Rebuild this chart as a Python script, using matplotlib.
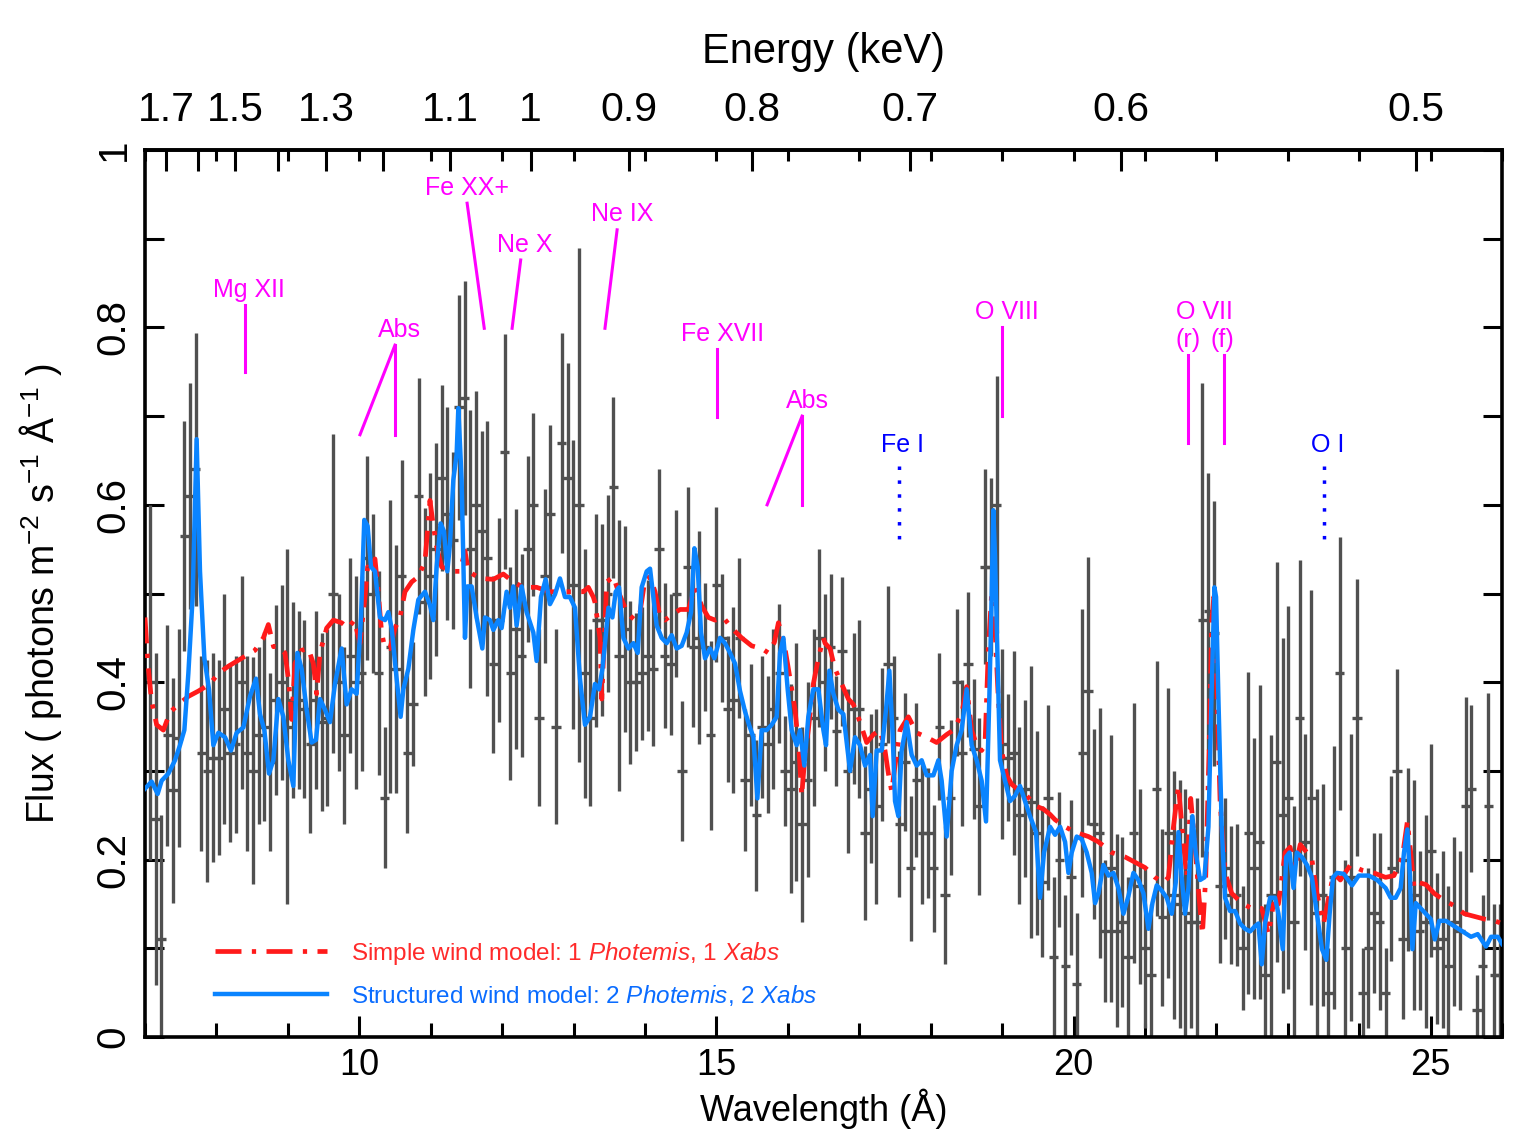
import numpy as np
import matplotlib
matplotlib.use('Agg')
import matplotlib.pyplot as plt
from matplotlib.ticker import MultipleLocator, NullLocator, FixedLocator

plt.rcParams['font.family'] = ['Liberation Sans', 'DejaVu Sans']
plt.rcParams['mathtext.fontset'] = 'custom'
plt.rcParams['mathtext.rm'] = 'Liberation Sans'
plt.rcParams['mathtext.it'] = 'Liberation Sans:italic'

# measured spectrum (flux per bin and 1-sigma error), bins run 7.07 .. 25.97 A
flux = [.40, .246, .11, .34, .278, .337, .565, .61, .64, .32, .30, .315, .315, .37, .32, .33, .40, .32, .30, .34,
        .35, .31, .38, .40, .35, .38, .38, .37, .33, .38, .355, .36, .50, .40, .34, .43, .40, .41, .54, .50,
        .41, .27, .44, .415, .52, .32, .375, .61, .49, .52, .55, .63, .59, .56, .71, .72, .55, .60, .57, .54,
        .42, .47, .66, .41, .46, .43, .55, .60, .36, .52, .59, .35, .67, .63, .51, .60, .41, .36, .47,
        .47, .50, .62, .43, .46, .40, .40, .41, .43, .415, .55, .43, .42, .50, .30, .53, .44, .45, .44, .34,
        .51, .45, .37, .38, .45, .29, .34, .25, .35, .33, .37, .41, .30, .28, .31, .24, .29, .36, .45,
        .40, .44, .345, .435, .30, .37, .37, .23, .28, .26, .33, .42, .36, .24, .31, .19, .29, .23, .23, .19,
        .35, .16, .27, .40, .32, .42, .325, .26, .53, .53, .60, .33, .315, .32, .25, .28, .265, .23, .175, .27,
        .09, .20, .08, .18, .06, .32, .39, .24, .23, .12, .19, .12, .13, .09, .23, .17, .10, .07, .28, .135,
        .23, .16, .15, .14, .13, .13, .47, .48, .455, .17, .19, .16, .16, .10, .23, .19, .22, .07, .16,
        .31, .25, .27, .13, .36, .22, .27, .14, .16, .05, .18, .41, .10, .18, .36, .05, .10, .14, .13, .05,
        .19, .30, .11, .20, .16, .12, .13, .21, .10, .11, .08, .13, .12, .26, .28, .03, .08, .26, .07, .07]
err = [.20, .187, .14, .125, .127, .123, .13, .127, .154, .11, .125, .118, .11, .13, .10, .10, .12, .11, .128, .10,
       .107, .10, .107, .11, .20, .11, .10, .10, .10, .10, .10, .10, .18, .10, .10, .11, .12, .11, .115, .09,
       .115, .08, .165, .14, .13, .09, .07, .133, .106, .116, .12, .105, .12, .10, .127, .132, .157, .128, .113, .155,
       .10, .115, .132, .12, .135, .114, .105, .103, .10, .098, .10, .11, .124, .13, .163, .29, .14, .10, .12,
       .108, .111, .102, .153, .116, .092, .078, .075, .085, .087, .09, .082, .08, .094, .079, .09, .09, .12, .072, .107,
       .087, .072, .082, .105, .09, .08, .08, .085, .08, .077, .09, .078, .062, .118, .134, .11, .11, .10, .10,
       .10, .082, .062, .084, .092, .085, .10, .098, .084, .11, .086, .088, .069, .082, .078, .082, .087, .08, .073, .072,
       .083, .078, .087, .083, .082, .082, .079, .10, .11, .10, .145, .107, .072, .115, .10, .10, .153, .115, .085, .104,
       .09, .076, .08, .087, .08, .162, .151, .107, .141, .08, .15, .109, .096, .09, .147, .11, .09, .08, .144, .10,
       .163, .14, .14, .14, .12, .14, .267, .156, .149, .087, .08, .078, .08, .07, .182, .147, .177, .08, .18,
       .225, .20, .216, .13, .178, .122, .234, .14, .125, .05, .148, .154, .10, .162, .156, .05, .09, .09, .10, .05,
       .104, .115, .09, .103, .13, .09, .12, .12, .085, .10, .09, .095, .09, .123, .094, .04, .08, .128, .08, .08]
wl = np.linspace(7.07, 25.97, len(flux))

# simple wind model (red)
red_wl = [7.00, 7.04, 7.09, 7.163, 7.257, 7.35, 7.467, 7.607, 7.747, 7.91, 8.027, 8.167, 8.353, 8.54, 8.657, 8.727,
          8.80, 8.843, 8.96, 9.016, 9.053, 9.10, 9.193, 9.287, 9.357, 9.403, 9.45, 9.543, 9.637, 9.753, 9.846, 9.93,
          10.01, 10.08, 10.117, 10.15, 10.22, 10.267, 10.313, 10.36, 10.43, 10.50, 10.57, 10.64, 10.733, 10.827,
          10.92, 10.99, 11.037, 11.083, 11.153, 11.317, 11.41, 11.48, 11.527, 11.69, 11.877, 12.017, 12.157, 12.297,
          12.483, 12.67, 12.857, 12.997, 13.137, 13.207, 13.277, 13.30, 13.37, 13.395, 13.464, 13.558, 13.628,
          13.721, 13.791, 13.861, 13.931, 14.001, 14.071, 14.141, 14.211, 14.281, 14.374, 14.491, 14.608, 14.701,
          14.794, 14.888, 14.981, 15.098, 15.214, 15.354, 15.494, 15.634, 15.728, 15.812, 15.868, 15.914, 15.961,
          16.031, 16.101, 16.157, 16.194, 16.241, 16.287, 16.357, 16.428, 16.498, 16.521, 16.591, 16.661, 16.754,
          16.848, 16.918, 17.011, 17.104, 17.198, 17.291, 17.361, 17.408, 17.454, 17.501, 17.571, 17.688, 17.804,
          17.944, 18.084, 18.224, 18.317, 18.434, 18.504, 18.574, 18.644, 18.714, 18.761, 18.808, 18.854, 18.877,
          18.901, 18.947, 18.994, 19.064, 19.134, 19.251, 19.344, 19.484, 19.578, 19.671, 19.742, 19.882, 20.022,
          20.209, 20.349, 20.535, 20.722, 20.862, 21.002, 21.142, 21.259, 21.329, 21.399, 21.469, 21.525, 21.585,
          21.641, 21.702, 21.758, 21.805, 21.851, 21.898, 21.935, 21.963, 22.005, 22.052, 22.122, 22.215, 22.355,
          22.495, 22.635, 22.729, 22.799, 22.869, 22.963, 23.033, 23.104, 23.174, 23.268, 23.338, 23.408, 23.502,
          23.572, 23.643, 23.736, 23.877, 24.041, 24.205, 24.369, 24.487, 24.604, 24.674, 24.721, 24.768, 24.838,
          24.932, 25.049, 25.19, 25.331, 25.471, 25.612, 25.752, 25.893, 26.0]
red_flux = [.473, .421, .38, .352, .346, .366, .375, .384, .39, .398, .41, .418, .427, .436, .45, .465,
            .44, .441, .433, .398, .358, .421, .436, .438, .421, .387, .433, .461, .47, .467, .461, .47,
            .444, .496, .530, .525, .539, .50, .456, .438, .438, .461, .473, .502, .513, .519,
            .536, .605, .576, .553, .53, .525, .525, .548, .525, .517, .516, .522, .513, .507,
            .507, .502, .502, .502, .502, .507, .496, .49, .45, .381, .513, .519, .502,
            .484, .475, .47, .479, .516, .519, .502, .473, .47, .476, .482, .482, .507,
            .486, .473, .47, .473, .461, .45, .441, .438, .433, .445, .467, .455, .438,
            .404, .369, .323, .272, .318, .346, .398, .427, .45, .444, .438, .415, .398,
            .381, .375, .355, .332, .341, .346, .323, .297, .277, .306, .346, .361, .343,
            .338, .332, .341, .346, .364, .395, .346, .329, .323, .33, .438, .50, .52,
            .46, .381, .323, .295, .285, .277, .272, .26, .257, .251, .245, .237, .231,
            .226, .22, .208, .203, .197, .191, .18, .174, .18, .237, .283, .231, .18,
            .269, .214, .157, .116, .18, .323, .467, .496, .398, .266, .185, .162, .151,
            .145, .145, .116, .15, .15, .208, .214, .19, .217, .208, .20, .162, .128,
            .157, .185, .177, .194, .188, .185, .18, .182, .203, .243, .208, .168, .174,
            .172, .162, .154, .148, .139, .136, .133, .131, .128]

# structured wind model (blue)
blue_wl = [7.00, 7.093, 7.177, 7.233, 7.327, 7.42, 7.49, 7.551, 7.607, 7.667, 7.723, 7.77, 7.831, 7.896, 7.957,
           8.027, 8.12, 8.204, 8.283, 8.377, 8.47, 8.554, 8.61, 8.671, 8.736, 8.797, 8.867, 8.937, 9.007, 9.077,
           9.133, 9.193, 9.263, 9.333, 9.394, 9.45, 9.52, 9.59, 9.66, 9.753, 9.823, 9.893, 9.963, 10.024, 10.07,
           10.117, 10.164, 10.22, 10.29, 10.36, 10.407, 10.453, 10.523, 10.579, 10.617, 10.687, 10.757, 10.827,
           10.92, 10.99, 11.037, 11.083, 11.139, 11.186, 11.233, 11.27, 11.317, 11.363, 11.387, 11.433, 11.48,
           11.513, 11.573, 11.643, 11.723, 11.76, 11.83, 11.877, 11.947, 11.993, 12.063, 12.11, 12.157, 12.203,
           12.273, 12.343, 12.437, 12.483, 12.544, 12.609, 12.67, 12.74, 12.81, 12.88, 12.95, 13.02, 13.09, 13.16,
           13.23, 13.30, 13.357, 13.404, 13.441, 13.488, 13.544, 13.59, 13.637, 13.698, 13.768, 13.838, 13.898,
           13.954, 14.024, 14.071, 14.118, 14.164, 14.234, 14.304, 14.374, 14.444, 14.514, 14.584, 14.645, 14.692,
           14.738, 14.785, 14.841, 14.911, 14.972, 15.051, 15.121, 15.191, 15.261, 15.331, 15.401, 15.457, 15.518,
           15.574, 15.634, 15.704, 15.774, 15.844, 15.891, 15.938, 15.998, 16.054, 16.124, 16.171, 16.231, 16.287,
           16.357, 16.428, 16.498, 16.535, 16.582, 16.638, 16.708, 16.778, 16.871, 16.941, 17.011, 17.081, 17.151,
           17.188, 17.244, 17.314, 17.375, 17.422, 17.468, 17.501, 17.548, 17.594, 17.664, 17.734, 17.804, 17.874,
           17.944, 18.038, 18.108, 18.154, 18.224, 18.294, 18.364, 18.434, 18.504, 18.574, 18.644, 18.714, 18.775,
           18.821, 18.854, 18.877, 18.901, 18.933, 18.971, 19.041, 19.111, 19.181, 19.251, 19.321, 19.391, 19.475,
           19.531, 19.587, 19.672, 19.742, 19.812, 19.882, 19.929, 19.975, 20.045, 20.115, 20.185, 20.255, 20.302,
           20.349, 20.419, 20.489, 20.559, 20.629, 20.699, 20.769, 20.839, 20.909, 20.979, 21.049, 21.105, 21.165,
           21.235, 21.305, 21.375, 21.431, 21.469, 21.515, 21.562, 21.609, 21.665, 21.711, 21.772, 21.833, 21.889,
           21.935, 21.973, 21.996, 22.029, 22.075, 22.122, 22.192, 22.262, 22.332, 22.402, 22.472, 22.542, 22.589,
           22.635, 22.682, 22.752, 22.822, 22.869, 22.93, 22.977, 23.024, 23.08, 23.127, 23.197, 23.268, 23.338,
           23.408, 23.479, 23.54, 23.586, 23.633, 23.69, 23.783, 23.9, 23.994, 24.135, 24.252, 24.369, 24.44,
           24.51, 24.58, 24.627, 24.674, 24.712, 24.745, 24.792, 24.862, 24.932, 25.002, 25.059, 25.12, 25.213,
           25.331, 25.448, 25.565, 25.659, 25.776, 25.846, 25.94, 26.0]
blue_flux = [.28, .288, .274, .289, .297, .312, .329, .346, .41, .496, .674, .525, .427, .392, .329,
             .343, .338, .323, .343, .349, .384, .404, .364, .346, .297, .312, .381, .361, .312, .283,
             .433, .415, .369, .332, .335, .381, .369, .355, .398, .438, .375, .392, .387, .473, .583,
             .576, .530, .525, .473, .47, .479, .461, .404, .361, .392, .415, .459, .493,
             .502, .487, .47, .53, .579, .57, .525, .556, .628, .657, .709, .628, .45,
             .508, .508, .473, .438, .473, .47, .459, .47, .461, .502, .484, .508, .464,
             .508, .479, .456, .424, .496, .516, .488, .499, .517, .496, .496, .484, .404, .352,
             .361, .398, .392, .415, .444, .484, .473, .502, .507, .45, .438, .444, .433,
             .507, .525, .528, .496, .464, .45, .444, .453, .438, .441, .456, .479, .551,
             .530, .456, .427, .438, .427, .45, .444, .433, .421, .39, .367, .352, .338,
             .269, .346, .346, .352, .361, .433, .45, .392, .346, .329, .346, .306, .361,
             .392, .392, .346, .329, .413, .387, .369, .364, .30, .338, .329, .306, .318,
             .249, .323, .323, .369, .413, .341, .266, .249, .323, .355, .318, .306, .312,
             .295, .295, .312, .289, .226, .30, .329, .346, .392, .329, .312, .289, .243,
             .381, .496, .594, .542, .438, .312, .289, .266, .272, .283, .266, .249, .231,
             .157, .208, .237, .228, .237, .22, .185, .208, .226, .223, .208, .185, .151,
             .162, .194, .182, .185, .168, .139, .159, .185, .177, .162, .122, .151, .171,
             .165, .157, .139, .174, .231, .18, .139, .168, .249, .208, .177, .18, .237,
             .392, .507, .496, .381, .237, .157, .142, .142, .128, .122, .119, .125, .128,
             .082, .128, .157, .157, .139, .099, .203, .208, .168, .208, .203, .194, .18,
             .139, .099, .087, .139, .18, .185, .184, .171, .182, .182, .177, .168, .157,
             .157, .168, .208, .234, .18, .099, .151, .145, .139, .133, .11, .131, .131,
             .125, .119, .113, .116, .102, .113, .113, .105]

# line identifications: label, text position, leader segments
magenta = '#ff00ff'
line_ids = [
    ('Mg XII', 8.46, 0.842, [(8.40, 0.825, 8.40, 0.750)]),
    ('Abs', 10.56, 0.797, [(10.50, 0.780, 10.01, 0.679), (10.50, 0.780, 10.50, 0.679)]),
    ('Fe XX+', 11.51, 0.957, [(11.51, 0.940, 11.75, 0.799)]),
    ('Ne X', 12.32, 0.893, [(12.26, 0.876, 12.14, 0.799)]),
    ('Ne IX', 13.68, 0.928, [(13.61, 0.910, 13.44, 0.799)]),
    ('Fe XVII', 15.08, 0.792, [(15.01, 0.776, 15.01, 0.699)]),
    ('Abs', 16.27, 0.717, [(16.20, 0.700, 15.71, 0.600), (16.20, 0.700, 16.20, 0.600)]),
    ('O VIII', 19.07, 0.817, [(19.00, 0.800, 19.00, 0.700)]),
    ('O VII', 21.83, 0.817, []),
    ('(r)', 21.60, 0.786, [(21.60, 0.769, 21.60, 0.670)]),
    ('(f)', 22.09, 0.786, [(22.10, 0.769, 22.10, 0.670)]),
]
neutral_ids = [('Fe I', 17.61, 0.667, 17.56), ('O I', 23.56, 0.667, 23.51)]

fig = plt.figure(figsize=(15.36, 11.45), dpi=100)
ax = fig.add_axes([0.0944, 0.0943, 0.8835, 0.7747])

ax.errorbar(wl, flux, yerr=err, xerr=0.065, fmt='none', ecolor='#505050',
            elinewidth=2.4, capsize=0, zorder=2)
ax.plot(red_wl, red_flux, color='#ff1a1a', lw=3.4, ls=(0, (5.5, 2.2, 0.9, 2.2)), zorder=3,
        label='Simple wind model: 1 $\\it{Photemis}$, 1 $\\it{Xabs}$')
ax.plot(blue_wl, blue_flux, color='#0a84ff', lw=3.2, zorder=4,
        label='Structured wind model: 2 $\\it{Photemis}$, 2 $\\it{Xabs}$')

for name, tx, ty, segs in line_ids:
    ax.text(tx, ty, name, color=magenta, fontsize=18, ha='center', va='center')
    for x0, y0, x1, y1 in segs:
        ax.plot([x0, x1], [y0, y1], color=magenta, lw=2.2, zorder=5)
for name, tx, ty, lx in neutral_ids:
    ax.text(tx, ty, name, color='#0000ff', fontsize=18, ha='center', va='center')
    ax.plot([lx, lx], [0.644, 0.551], color='#0000ff', lw=2.5, ls=(0, (1, 3)), zorder=5)

ax.set_xlim(7, 26)
ax.set_ylim(0, 1)

ax.xaxis.set_major_locator(FixedLocator([10, 15, 20, 25]))
ax.xaxis.set_minor_locator(MultipleLocator(1))
ax.yaxis.set_minor_locator(MultipleLocator(0.1))
ax.set_yticks([0, 0.2, 0.4, 0.6, 0.8, 1.0])
ax.set_yticklabels(['0', '0.2', '0.4', '0.6', '0.8', '1'])
ax.tick_params(axis='x', which='major', direction='in', length=15, width=2.2,
               labelsize=26, pad=8, top=False)
ax.tick_params(axis='x', which='minor', direction='in', length=10, width=2.2, top=False)
ax.tick_params(axis='y', which='both', direction='in', length=14, width=2.2,
               right=True, labelsize=29, pad=9)
for lab in ax.get_yticklabels():
    lab.set_rotation(90)
    lab.set_va('center')
for s in ax.spines.values():
    s.set_linewidth(2.6)

ax.set_xlabel('Wavelength (Å)', fontsize=26, labelpad=4)
ax.set_ylabel('Flux ( photons m$^{-2}$ s$^{-1}$ Å$^{-1}$ )', fontsize=27, labelpad=22)

# short wavelength ticks along the top edge
top_wl = ax.secondary_xaxis('top')
top_wl.xaxis.set_major_locator(MultipleLocator(1))
top_wl.tick_params(direction='in', length=8, width=2.2, labeltop=False)
top_wl.spines['top'].set_linewidth(2.6)


def to_energy(x):
    x = np.asarray(x, dtype=float)
    with np.errstate(divide='ignore'):
        return 12.398 / x


energy = ax.secondary_xaxis('top', functions=(to_energy, to_energy))
e_ticks = [1.7, 1.6, 1.5, 1.4, 1.3, 1.2, 1.1, 1.0, 0.9, 0.8, 0.7, 0.6, 0.5]
e_labels = ['1.7', '', '1.5', '', '1.3', '', '1.1', '1', '0.9', '0.8', '0.7', '0.6', '0.5']
energy.set_xticks(e_ticks)
energy.set_xticklabels(e_labels)
energy.xaxis.set_minor_locator(NullLocator())
energy.tick_params(direction='in', length=15, width=2.2, labelsize=29.5, pad=15)
energy.set_xlabel('Energy (keV)', fontsize=30, labelpad=20)

leg = ax.legend(loc='lower left', bbox_to_anchor=(0.0516, 0.033), frameon=False,
                fontsize=17.5, handlelength=4.6, handletextpad=1.0, labelspacing=0.65,
                borderpad=0, borderaxespad=0, labelcolor=['#ff2a2a', '#0a6cff'])

fig.savefig('out.png', dpi=100)
